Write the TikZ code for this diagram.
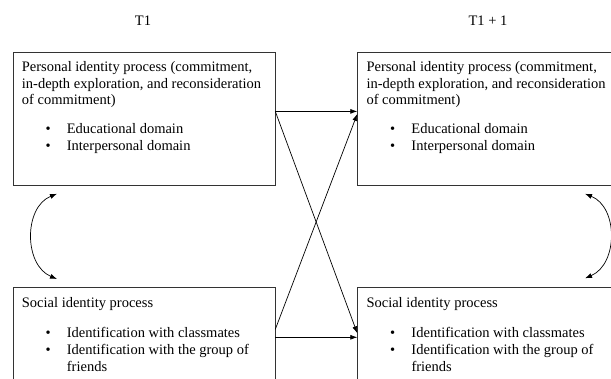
\documentclass[tikz,border=0pt]{standalone}
\usepackage{fontspec}
\setmainfont{Liberation Serif}
\usetikzlibrary{arrows.meta,calc}
\begin{document}
\begin{tikzpicture}[x=1pt,y=-1pt,
  box/.style={draw=black!80,line width=0.8pt,rectangle,inner sep=0pt,anchor=north west,minimum width=261.8pt},
  txt/.style={anchor=base west,inner sep=0pt,font=\fontsize{14.5}{16.5}\selectfont},
  title/.style={inner sep=0pt,font=\fontsize{14.5}{16.5}\selectfont},
  arr/.style={line width=0.7pt,-{Latex[length=7pt,width=5pt]}},
  darr/.style={line width=0.7pt,{Latex[length=7pt,width=5pt]}-{Latex[length=7pt,width=5pt]}}]
\useasboundingbox (0,0) rectangle (611,379);
\clip (0,0) rectangle (611,379);
\fill[white] (0,0) rectangle (611,379);
\newcommand{\bl}[1]{\hspace*{23.7pt}\makebox[21.3pt][l]{\textbullet}#1}
% titles
\node[title] (t1) at (143,21) {T1};
\node[title] (t2) at (488,21) {T1 + 1};
% boxes
\node[box,minimum height=133pt] (pTL) at (12.7,52) {};
\node[box,minimum height=133pt] (pTR) at (357.3,52) {};
\node[box,minimum height=140pt] (sBL) at (12.7,287.3) {};
\node[box,minimum height=140pt] (sBR) at (357.3,287.3) {};
% texts
\node[txt] (tTL) at (21.7,72) {\parbox[t]{255pt}{\setlength{\parindent}{0pt}%
Personal identity process (commitment,\\
in-depth exploration, and reconsideration\\
of commitment)\\[12pt]
\bl{Educational domain}\\[1pt]
\bl{Interpersonal domain}}};
\node[txt] (tTR) at (366.3,72) {\parbox[t]{255pt}{\setlength{\parindent}{0pt}%
Personal identity process (commitment,\\
in-depth exploration, and reconsideration\\
of commitment)\\[12pt]
\bl{Educational domain}\\[1pt]
\bl{Interpersonal domain}}};
\node[txt] (tBL) at (21.7,307.5) {\parbox[t]{255pt}{\setlength{\parindent}{0pt}%
Social identity process\\[13.5pt]
\bl{Identification with classmates}\\[1pt]
\bl{Identification with the group of}\\
\hspace*{45pt}friends}};
\node[txt] (tBR) at (366.3,307.5) {\parbox[t]{255pt}{\setlength{\parindent}{0pt}%
Social identity process\\[13.5pt]
\bl{Identification with classmates}\\[1pt]
\bl{Identification with the group of}\\
\hspace*{45pt}friends}};
% cross-lagged and autoregressive arrows
\draw[arr] ([yshift=7.5pt]pTL.east) -- ([yshift=7.5pt]pTR.west);
\draw[arr] ([yshift=7.5pt]pTL.east) -- ([yshift=-46pt]sBR.north west);
\draw[arr] ([yshift=-50pt]sBL.north east) -- ([yshift=-50pt]sBR.north west);
\draw[arr] ([yshift=-42pt]sBL.north east) -- ([yshift=5pt]pTR.west);
% correlations
\coordinate (la) at ([shift={(44.3pt,-8pt)}]pTL.south west);
\coordinate (lb) at ([shift={(44.3pt,8.3pt)}]sBL.north west);
\coordinate (ra) at ([shift={(227.7pt,-8pt)}]pTR.south west);
\coordinate (rb) at ([shift={(227.7pt,9pt)}]sBR.north west);
\draw[darr] (la) .. controls (23.7,207) and (23.7,265) .. (lb);
\draw[darr] (ra) .. controls (618.3,207) and (618.3,264) .. (rb);
\end{tikzpicture}
\end{document}
